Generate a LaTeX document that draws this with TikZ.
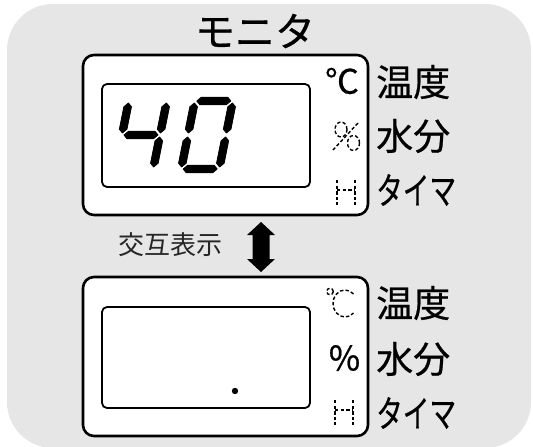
\documentclass[tikz,border=0pt]{standalone}
\usepackage{fontspec}
\setmainfont{Noto Sans CJK JP}
\newfontfamily\heavyfont[FakeBold=0.6]{Noto Sans CJK JP}

\begin{document}
\begin{tikzpicture}[x=1pt,y=-1pt,line join=round]
  \useasboundingbox (0,0) rectangle (533,447);

  % ---- reference values (image pixels, y runs down) ----
  % Horizontal
  \def\boxL{83}       % left edge of both monitors
  \def\boxR{368}      % right edge of both monitors
  \def\scrL{102}      % left edge of the LCD window
  \def\scrR{310}      % right edge of the LCD window
  \def\labX{376}      % left edge of the side labels

  % Vertical
  \def\topA{55}   \def\botA{215}   % upper monitor
  \def\topB{277}  \def\botB{436}   % lower monitor

  \definecolor{panelgray}{RGB}{230,230,230}
  \tikzset{
    lcdbox/.style={draw,line width=2.6pt,fill=white,rounded corners=11pt},
    lcdwin/.style={draw,line width=1.8pt,rounded corners=5pt},
    unlit/.style={line width=1.4pt,dash pattern=on 3.4pt off 2.2pt},
    sidelabel/.style={anchor=west,inner sep=0pt,font=\heavyfont\fontsize{37}{37}\selectfont},
    unitmark/.style={inner sep=0pt,font=\heavyfont\fontsize{34}{34}\selectfont},
    segment/.style={fill=black,draw=black,line width=0.8pt},
  }

  % seven-segment pieces (digit-local coordinates)
  \def\hseg#1#2#3{\filldraw[segment] (#1,#3) -- (#1+3.8,#3-3.8) -- (#2-3.8,#3-3.8) -- (#2,#3) -- (#2-3.8,#3+3.8) -- (#1+3.8,#3+3.8) -- cycle;}
  \def\vseg#1#2#3{\filldraw[segment] (#1,#2) -- (#1+3.8,#2+3.8) -- (#1+3.8,#3-3.8) -- (#1,#3) -- (#1-3.8,#3-3.8) -- (#1-3.8,#2+3.8) -- cycle;}

  % ---- panel ----
  \fill[panelgray,rounded corners=46pt] (7,4) rectangle (531,448);
  \node[inner sep=0pt,font=\heavyfont\fontsize{40}{40}\selectfont] (title) at (255,31) {モニタ};

  % ---- upper monitor (shows 40) ----
  \draw[lcdbox] (\boxL,\topA) rectangle (\boxR,\botA);
  \draw[lcdwin] (\scrL,84) rectangle (\scrR,187);

  % digit 4
  \begin{scope}[shift={(141,135)},xslant=0.2]
    \vseg{-19}{-32}{-2}
    \vseg{19}{-32}{-2}
    \hseg{-17}{17}{0}
    \vseg{19}{2}{32}
  \end{scope}
  % digit 0
  \begin{scope}[shift={(207,135)},xslant=0.2]
    \hseg{-17}{17}{-34}
    \vseg{-19}{-32}{-2}
    \vseg{19}{-32}{-2}
    \vseg{-19}{2}{32}
    \vseg{19}{2}{32}
    \hseg{-17}{17}{34}
  \end{scope}

  % unit marks: degree lit, percent and hour unlit
  \node[unitmark] (degA) at (342,81) {℃};
  \draw[unlit] (341,129.5) circle[x radius=6pt,y radius=7.5pt];
  \draw[unlit] (353.5,143) circle[x radius=6pt,y radius=7.5pt];
  \draw[unlit] (358,123) -- (333,150);
  \draw[unlit] (337,180) -- (337,205) (355,180) -- (355,205) (337,190) -- (355,190);

  \node[sidelabel] (tempA) at (\labX,82) {温度};
  \node[sidelabel] (waterA) at (\labX,136) {水分};
  \node[sidelabel] (timerA) at (\labX,190) {\scalebox{0.72}[1]{タイマ}};

  % ---- alternating display ----
  \node[inner sep=0pt,text=black!85,font=\fontsize{26}{26}\selectfont] (swap) at (170.5,245) {交互表示};
  \fill (261,222) -- (275,235) -- (269.5,235) -- (269.5,259) -- (275,259) -- (261,272)
     -- (247,259) -- (252.5,259) -- (252.5,235) -- (247,235) -- cycle;

  % ---- lower monitor (blank, decimal point only) ----
  \draw[lcdbox] (\boxL,\topB) rectangle (\boxR,\botB);
  \draw[lcdwin] (\scrL,307) rectangle (\scrR,408);
  \fill (235,391) circle (3.2pt);

  % unit marks: percent lit, degree and hour unlit
  \draw[unlit] (330,291.5) circle (3.3pt);
  \draw[unlit] ([shift={(45:12pt and 13.5pt)}]345,303.5) arc[start angle=45,end angle=315,x radius=12pt,y radius=13.5pt];
  \node[unitmark] (pctB) at (344.5,358) {\%};
  \draw[unlit] (335,400) -- (335,425) (353,400) -- (353,425) (335,410) -- (353,410);

  \node[sidelabel] (tempB) at (\labX,303) {温度};
  \node[sidelabel] (waterB) at (\labX,359) {水分};
  \node[sidelabel] (timerB) at (\labX,413) {\scalebox{0.72}[1]{タイマ}};

\end{tikzpicture}
\end{document}
